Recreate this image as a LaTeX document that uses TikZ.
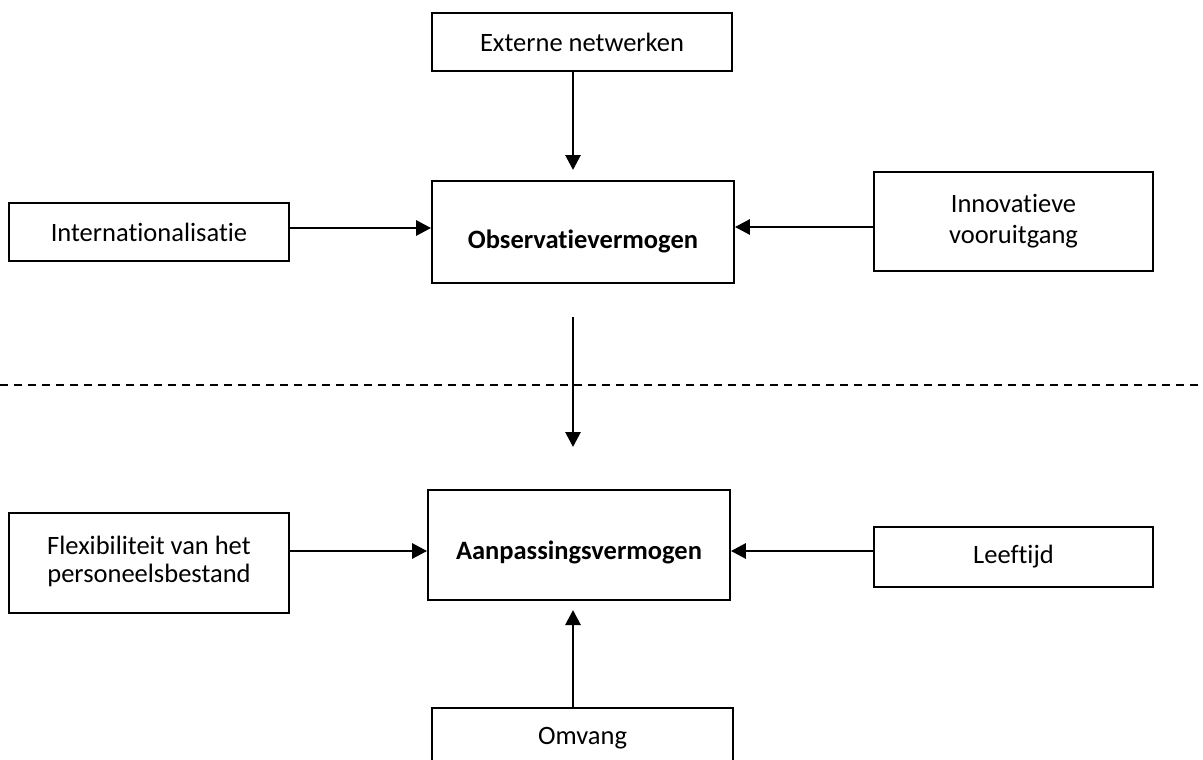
\documentclass[tikz,border=0pt]{standalone}
\usepackage{fontspec}
\setmainfont{Carlito}[Ligatures=NoCommon]
\usetikzlibrary{arrows.meta}
\begin{document}
\begin{tikzpicture}[x=1pt,y=-1pt,
  box/.style={draw, line width=1.8pt, inner sep=0pt, align=center,
    font=\fontsize{26.5}{31}\selectfont},
  bbox/.style={box, font=\fontsize{26.5}{31}\selectfont\bfseries},
  arr/.style={line width=2.8pt, -{Triangle[length=15pt,width=15pt]}},
  sep/.style={line width=1.5pt, dash pattern=on 8pt off 6pt}]
\clip (0,0) rectangle (1203,760);
% top half
\node[box, minimum width=300pt, minimum height=58pt] (ext) at (582,42) {Externe netwerken};
\node[bbox, minimum width=302pt, minimum height=102pt] (obs) at (583,232) {\raisebox{-16pt}[0pt][0pt]{Observatievermogen}};
\node[box, minimum width=280pt, minimum height=58pt] (intl) at (149,232) {Internationalisatie};
\node[box, minimum width=279pt, minimum height=99pt] (inn) at (1013.5,221.5) {Innovatieve\\vooruitgang};
% bottom half
\node[bbox, minimum width=302pt, minimum height=110pt] (aanp) at (579,545) {\raisebox{-14pt}[0pt][0pt]{Aanpassingsvermogen}};
\node[box, minimum width=280pt, minimum height=100pt, font=\fontsize{26.5}{28}\selectfont] (flex) at (149,563) {\raisebox{3pt}{\begin{tabular}{@{}c@{}}Flexibiliteit van het\\personeelsbestand\end{tabular}}};
\node[box, minimum width=279pt, minimum height=60pt] (leef) at (1013.5,557) {Leeftijd};
\node[box, minimum width=301pt, minimum height=60pt, anchor=north] (omv) at (582.5,707) {Omvang};
% free ends
\coordinate (t1) at (573,170);
\coordinate (s2) at (573,317);
\coordinate (t2) at (573,447);
\coordinate (t3) at (573,610);
\coordinate (dl) at (0,385);
\coordinate (dr) at (1203,385);
% connectors
\draw[sep] (dl) -- (dr);
\draw[arr] (ext.south -| t1) -- (t1);
\draw[arr] ([yshift=4pt]intl.east) -- ([yshift=4pt]obs.west);
\draw[arr] ([yshift=5pt]inn.west |- obs.west) -- ([yshift=5pt]obs.east);
\draw[arr] (s2) -- (t2);
\draw[arr] ([yshift=-6pt]flex.east |- aanp.west) -- ([yshift=-6pt]aanp.west);
\draw[arr] ([yshift=-6pt]leef.west |- aanp.east) -- ([yshift=-6pt]aanp.east);
\draw[arr] (omv.north -| t3) -- (t3);
\end{tikzpicture}
\end{document}
